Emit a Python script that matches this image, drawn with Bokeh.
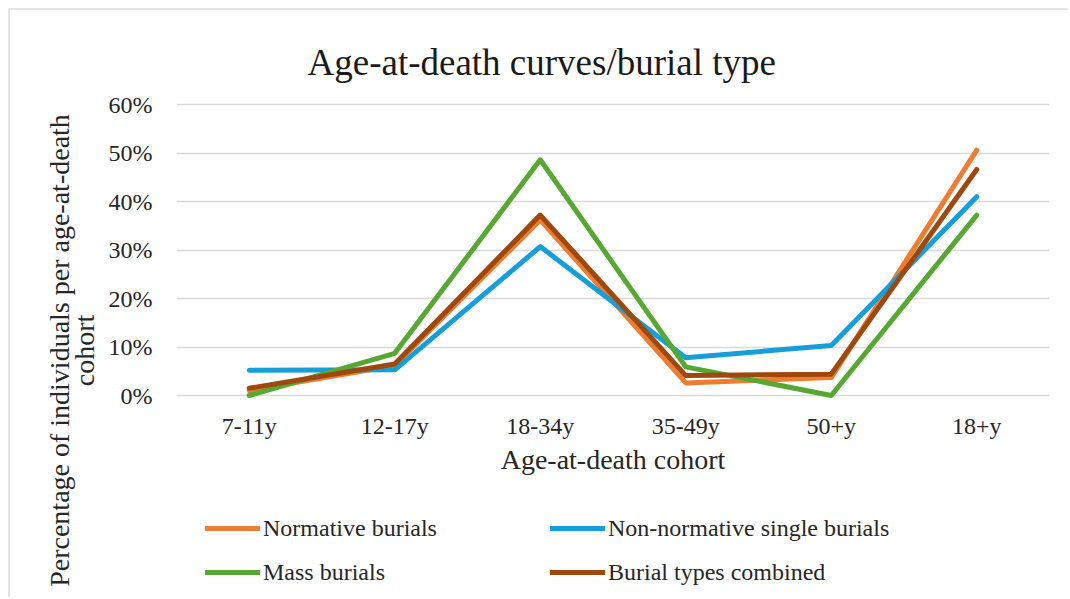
from bokeh.plotting import figure
from bokeh.models import (Range1d, FactorRange, NumeralTickFormatter, FixedTicker,
                          LinearAxis, Legend, LegendItem, Label)
from bokeh.embed import file_html
from bokeh.resources import INLINE

categories = ["7-11y", "12-17y", "18-34y", "35-49y", "50+y", "18+y"]
normative = [0.010, 0.062, 0.362, 0.026, 0.037, 0.506]
non_normative = [0.052, 0.053, 0.307, 0.078, 0.103, 0.410]
mass = [0.000, 0.087, 0.486, 0.059, 0.000, 0.372]
combined = [0.015, 0.065, 0.372, 0.041, 0.044, 0.466]

series_names = ["Normative burials", "Non-normative single burials",
                "Mass burials", "Burial types combined"]
series_values = [normative, non_normative, mass, combined]
colors = ["#ED7D31", "#149FDA", "#56A832", "#9E480E"]

y_ticks = [0, 0.1, 0.2, 0.3, 0.4, 0.5, 0.6]
title_text = "Age-at-death curves/burial type"
x_title = "Age-at-death cohort"
y_title_lines = ["Percentage of individuals per age-at-death", "cohort"]

FONT = "Liberation Serif"
TXT = "#262626"

# layout geometry (pixels): canvas 1060 x 589
PX_PER_UNIT = 485.0
TOP_GAP = 94      # canvas px above the 60% line
BOTTOM_GAP = 204  # canvas px below the 0% line
y_end = 0.6 + TOP_GAP / PX_PER_UNIT
y_start = -BOTTOM_GAP / PX_PER_UNIT

p = figure(width=1060, height=589, x_range=FactorRange(*categories),
           y_range=Range1d(y_start, y_end), output_backend="svg",
           toolbar_location=None, title=None,
           min_border_left=166, min_border_right=21, min_border_top=0,
           min_border_bottom=0)
p.styles = {"margin-left": "8px", "margin-top": "8px",
            "border-top": "2px solid #e3e3e3", "border-left": "2px solid #e3e3e3"}
p.outline_line_color = None
p.background_fill_color = "white"
p.border_fill_color = "white"

p.xgrid.grid_line_color = None
p.ygrid.grid_line_color = "#d9d9d9"
p.ygrid.grid_line_width = 1.5
p.yaxis.ticker = FixedTicker(ticks=y_ticks)
p.yaxis.formatter = NumeralTickFormatter(format="0%")
for ax in (p.xaxis, p.yaxis):
    ax.axis_line_color = None
    ax.major_tick_line_color = None
    ax.minor_tick_line_color = None
    ax.major_tick_out = 0
    ax.minor_tick_out = 0
    ax.major_label_text_font = FONT
    ax.major_label_text_font_size = "24px"
    ax.major_label_text_color = TXT
p.yaxis.major_label_standoff = 24
p.xaxis.major_label_standoff = 17
p.xaxis.fixed_location = 0

p.xaxis.axis_label = x_title
p.xaxis.axis_label_text_font = FONT
p.xaxis.axis_label_text_font_size = "28px"
p.xaxis.axis_label_text_font_style = "normal"
p.xaxis.axis_label_text_color = TXT
p.xaxis.axis_label_standoff = 2

# label centred on the frame; trailing no-break spaces move it down to the reference position
pad = "\u00a0" * 13
yt = LinearAxis(axis_label="\n".join(s + pad for s in y_title_lines),
                ticker=FixedTicker(ticks=[]),
                axis_line_color=None, major_tick_line_color=None,
                minor_tick_line_color=None, major_tick_out=0, minor_tick_out=0,
                axis_label_text_font=FONT, axis_label_text_font_size="28px",
                axis_label_text_font_style="normal", axis_label_text_color=TXT,
                axis_label_text_align="center", axis_label_text_line_height=0.8,
                axis_label_standoff=6)
p.add_layout(yt, "left")

renderers = []
for name, vals, c in zip(series_names, series_values, colors):
    r = p.line(categories, vals, line_color=c, line_width=5,
               line_cap="round", line_join="round")
    renderers.append(r)

# legend fills column by column: order so rows read as in the reference
legend_order = [0, 2, 1, 3]
legend = Legend(items=[LegendItem(label=series_names[i], renderers=[renderers[i]])
                       for i in legend_order],
                location=(29, 5), ncols=2,
                label_text_font=FONT, label_text_font_size="24px",
                label_text_color=TXT, glyph_width=55, glyph_height=44,
                label_height=44, label_width=287, label_standoff=3,
                spacing=0, padding=0, margin=0,
                border_line_color=None, background_fill_alpha=0)
p.add_layout(legend, "center")

p.add_layout(Label(x=131, y=537, x_units="screen", y_units="screen", text=title_text,
                   text_font=FONT, text_font_size="37px", text_color="#1a1a1a",
                   text_align="left", text_baseline="alphabetic"))

open("out.html", "w").write(file_html(p, INLINE))
